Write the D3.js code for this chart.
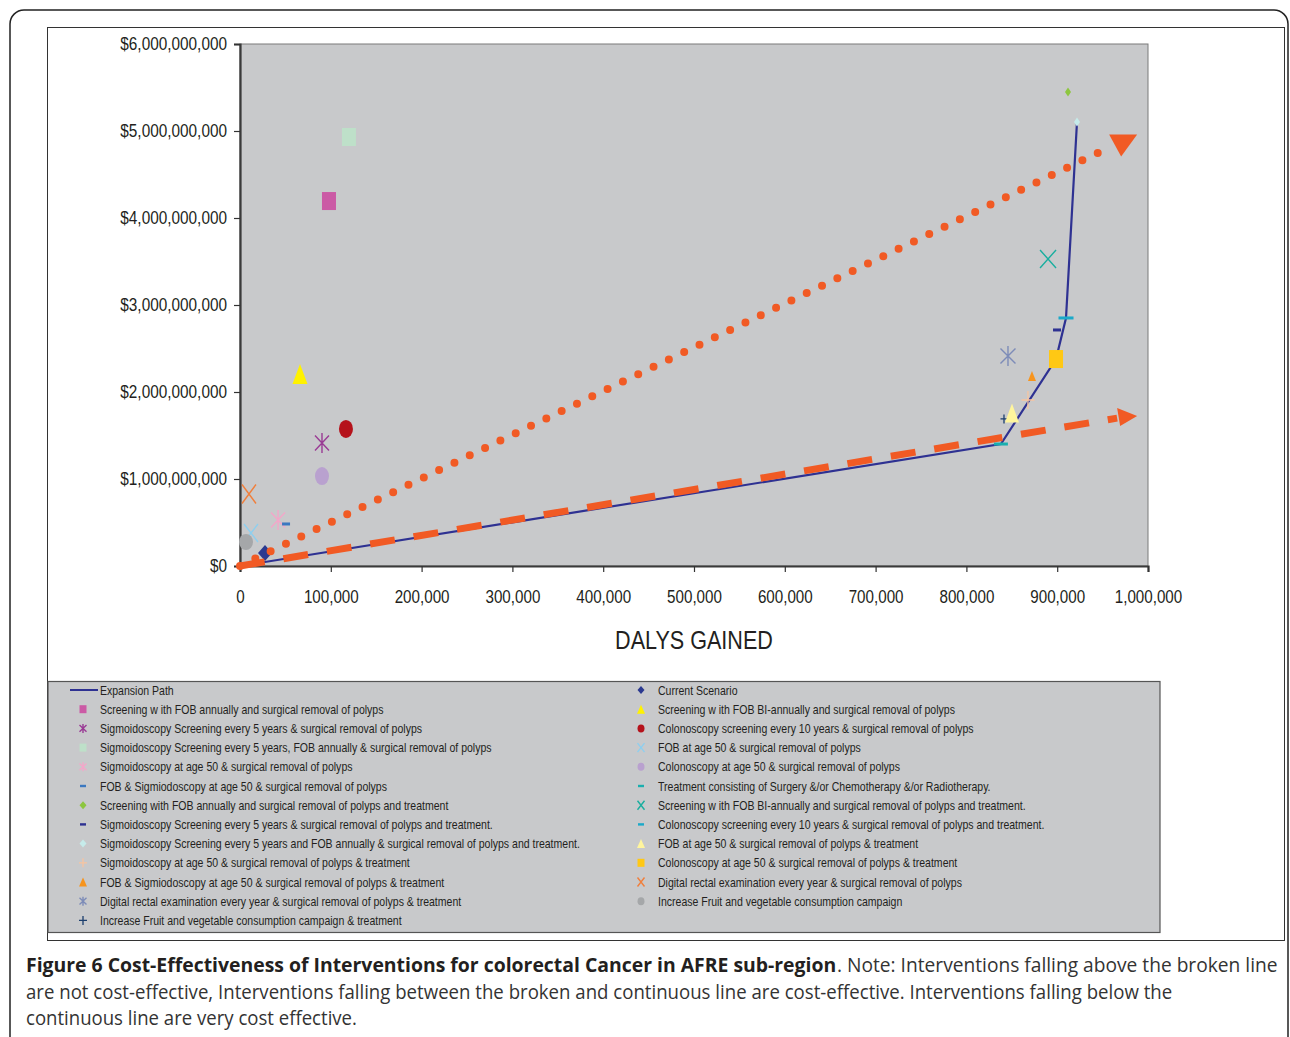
<!DOCTYPE html>
<html><head><meta charset="utf-8">
<script src="https://cdn.jsdelivr.net/npm/d3@7"></script>
<style>
html,body{margin:0;padding:0;background:#fff;}
svg{display:block;}
.nar{font-family:'Liberation Sans',Arial,sans-serif;}
</style></head>
<body>
<script>
// ---------- DATA ----------
const interventions = [
  "Screening w ith FOB annually and surgical removal of polyps",
  "Sigmoidoscopy Screening every 5 years & surgical removal of polyps",
  "Sigmoidoscopy Screening every 5 years, FOB annually & surgical removal of polyps",
  "Sigmoidoscopy at age 50 & surgical removal of polyps",
  "FOB & Sigmiodoscopy at age 50 & surgical removal of polyps",
  "Screening with FOB annually and surgical removal of polyps and treatment",
  "Sigmoidoscopy Screening every 5 years & surgical removal of polyps and treatment.",
  "Sigmoidoscopy Screening every 5 years and FOB annually & surgical removal of polyps and treatment.",
  "Sigmoidoscopy at age 50 & surgical removal of polyps & treatment",
  "FOB & Sigmiodoscopy at age 50 & surgical removal of polyps & treatment",
  "Digital rectal examination every year & surgical removal of polyps & treatment",
  "Increase Fruit and vegetable consumption campaign & treatment",
  "Current Scenario",
  "Screening w ith FOB BI-annually and surgical removal of polyps",
  "Colonoscopy screening every 10 years & surgical removal of polyps",
  "FOB at age 50 & surgical removal of polyps",
  "Colonoscopy at age 50 & surgical removal of polyps",
  "Treatment consisting of Surgery &/or Chemotherapy &/or Radiotherapy.",
  "Screening w ith FOB BI-annually and surgical removal of polyps and treatment.",
  "Colonoscopy screening every 10 years & surgical removal of polyps and treatment.",
  "FOB at age 50 & surgical removal of polyps & treatment",
  "Colonoscopy at age 50 & surgical removal of polyps & treatment",
  "Digital rectal examination every year & surgical removal of polyps",
  "Increase Fruit and vegetable consumption campaign"
];
const dalysGained = [98000, 90300, 120000, 41900, 50700, 911900, 899800, 921800, 867800, 872200, 845800, 841400,
                     27500, 66100, 116700, 12100, 90300, 838000, 889900, 909700, 850200, 898700, 9900, 6600];
const costs = [4.195e9, 1.414e9, 4.931e9, 0.529e9, 0.483e9, 5.448e9, 2.713e9, 5.103e9, 1.908e9, 2.184e9, 2.414e9, 1.690e9,
               0.149e9, 2.207e9, 1.575e9, 0.379e9, 1.034e9, 1.402e9, 3.529e9, 2.851e9, 1.759e9, 2.379e9, 0.828e9, 0.276e9];
const expansionDalys = [0, 838000, 898700, 909700, 921800];
const expansionCosts = [0, 1.402e9, 2.379e9, 2.851e9, 5.103e9];
const dottedLineDalys = [0, 955000];
const dottedLineCosts = [0, 4.80e9];
const dashedLineDalys = [0, 966000];
const dashedLineCosts = [0, 1.70e9];
const xTicks = [0,100000,200000,300000,400000,500000,600000,700000,800000,900000,1000000];
const yTicks = [0,1e9,2e9,3e9,4e9,5e9,6e9];
const xTitle = "DALYS GAINED";
const captionBold = "Figure 6 Cost-Effectiveness of Interventions for colorectal Cancer in AFRE sub-region";
const captionRest1 = ". Note: Interventions falling above the broken line";
const captionLine2 = "are not cost-effective, Interventions falling between the broken and continuous line are cost-effective. Interventions falling below the";
const captionLine3 = "continuous line are very cost effective.";

// ---------- STYLES ----------
const shapes = ["rect","star","rect","star","dash","diamond","dash","diamond","plus","tri","star","plus",
                "diamond","tri","ellipse","x","ellipse","dash","x","dash","tri","rect","x","ellipse"];
const colors = ["#CB5AA5","#9A3B95","#BEE0C9","#F3A7C9","#3B78C0","#8DC63F","#2E3192","#C6EBEA","#F7C4A0","#F7941D","#7D8CB8","#1C3F6E",
                "#2B3990","#FFF200","#B5121B","#8ECFEF","#B9A1CF","#1AAFAF","#1AAE9F","#1BA9C9","#FFF59D","#FFC814","#F07F3C","#A5A7A9"];
const sizes = [[14,18],[14,20],[14,18],[14,20],[8,3],[6,9],[8,3],[6,9],[13,18],[8,10],[15,20],[7,9],
               [14,16],[15,20],[14,18],[14,18],[14,18],[14,3],[16,18],[15,3],[14,19],[14,18],[14,19],[14,16]];
const legendSizes = {rect:[7,8],star:[7,9],dash:[6,2.4],diamond:[7,8],plus:[8,9],tri:[8,9],ellipse:[7,8],x:[7,9]};

const W=1290,H=1037;
const svg = d3.select("body").append("svg").attr("width",W).attr("height",H);

// condense text horizontally about its anchor point (scale factor f, or to a target width)
function condense(sel, f, target){
  sel.each(function(){
    const t = d3.select(this);
    const L = this.getComputedTextLength();
    const k = target ? target / L : f;
    const tx = +t.attr("x") || 0, ty = +t.attr("y") || 0;
    t.attr("x",0).attr("y",0).attr("transform",`translate(${tx},${ty}) scale(${k},1)`);
  });
}

// outer frames
svg.append("rect").attr("x",10).attr("y",10).attr("width",1278).attr("height",1050).attr("rx",14)
   .attr("fill","none").attr("stroke","#222").attr("stroke-width",1.5);
svg.append("rect").attr("x",47.5).attr("y",27.5).attr("width",1237).attr("height",913)
   .attr("fill","#fff").attr("stroke","#333").attr("stroke-width",1);

const x = d3.scaleLinear().domain([0,1e6]).range([240,1148]);
const y = d3.scaleLinear().domain([0,6e9]).range([566,44]);

// plot area
svg.append("rect").attr("x",x(0)).attr("y",y(6e9)).attr("width",x(1e6)-x(0)).attr("height",y(0)-y(6e9))
   .attr("fill","#C8C9CB").attr("stroke","#7a7a7a").attr("stroke-width",1);

const fmtX = d3.format(",");
const fmtY = v => "$" + d3.format(",")(v);

const gx = svg.append("g").attr("transform",`translate(0,${y(0)})`)
   .call(d3.axisBottom(x).tickValues(xTicks).tickFormat(fmtX).tickSize(6).tickPadding(18));
const gy = svg.append("g").attr("transform",`translate(${x(0)},0)`)
   .call(d3.axisLeft(y).tickValues(yTicks).tickFormat(fmtY).tickSize(6).tickPadding(7));
[gx,gy].forEach(g=>{
  g.attr("font-family",null).attr("font-size",null);
  g.select(".domain").attr("stroke","#3a3a3a").attr("stroke-width",2.2);
  g.selectAll(".tick line").attr("stroke","#333").attr("stroke-width",1.2);
  g.selectAll(".tick text").attr("class","nar").attr("font-size",18.3).attr("fill","#231f20");
});
condense(gx.selectAll(".tick text"), 0.83);
condense(gy.selectAll(".tick text"), 0.84);

condense(svg.append("text").attr("class","nar").attr("x",694).attr("y",649).attr("text-anchor","middle")
   .attr("font-size",26).attr("fill","#231f20").text(xTitle), 0.83);

// marker drawer
function drawMarker(g, shape, cx, cy, w, h, color){
  const hw=w/2, hh=h/2;
  if(shape==="rect") g.append("rect").attr("x",cx-hw).attr("y",cy-hh).attr("width",w).attr("height",h).attr("fill",color);
  else if(shape==="ellipse") g.append("ellipse").attr("cx",cx).attr("cy",cy).attr("rx",hw).attr("ry",hh).attr("fill",color);
  else if(shape==="diamond") g.append("path").attr("d",`M${cx},${cy-hh}L${cx+hw},${cy}L${cx},${cy+hh}L${cx-hw},${cy}Z`).attr("fill",color);
  else if(shape==="tri") g.append("path").attr("d",`M${cx},${cy-hh}L${cx+hw},${cy+hh}L${cx-hw},${cy+hh}Z`).attr("fill",color);
  else if(shape==="dash") g.append("rect").attr("x",cx-hw).attr("y",cy-hh).attr("width",w).attr("height",h).attr("fill",color);
  else if(shape==="x") g.append("path").attr("d",`M${cx-hw},${cy-hh}L${cx+hw},${cy+hh}M${cx+hw},${cy-hh}L${cx-hw},${cy+hh}`)
        .attr("stroke",color).attr("stroke-width",1.4).attr("fill","none");
  else if(shape==="star") g.append("path").attr("d",`M${cx-hw},${cy-hh*0.75}L${cx+hw},${cy+hh*0.75}M${cx+hw},${cy-hh*0.75}L${cx-hw},${cy+hh*0.75}M${cx},${cy-hh}L${cx},${cy+hh}`)
        .attr("stroke",color).attr("stroke-width",1.4).attr("fill","none");
  else if(shape==="plus") g.append("path").attr("d",`M${cx-hw},${cy}L${cx+hw},${cy}M${cx},${cy-hh}L${cx},${cy+hh}`)
        .attr("stroke",color).attr("stroke-width",1.3).attr("fill","none");
}

// expansion path
const line = d3.line().x(d=>x(d[0])).y(d=>y(d[1]));
svg.append("path").datum(expansionDalys.map((v,i)=>[v,expansionCosts[i]])).attr("d",line)
   .attr("fill","none").attr("stroke","#2E3192").attr("stroke-width",2.2);

// markers
const gm = svg.append("g");
interventions.forEach((n,i)=>{
  drawMarker(gm, shapes[i], x(dalysGained[i]), y(costs[i]), sizes[i][0], sizes[i][1], colors[i]);
});

// threshold lines
svg.append("path").datum(dottedLineDalys.map((v,i)=>[v,dottedLineCosts[i]])).attr("d",line)
   .attr("fill","none").attr("stroke","#F15A24").attr("stroke-width",8).attr("stroke-linecap","round")
   .attr("stroke-dasharray","0,17");
{
  const ex=x(dottedLineDalys[1]), ey=y(dottedLineCosts[1]);
  svg.append("path").attr("d",`M${ex+2},${ey-14}L${ex+30},${ey-14}L${ex+14},${ey+8}Z`).attr("fill","#F15A24");
}
svg.append("path").datum(dashedLineDalys.map((v,i)=>[v,dashedLineCosts[i]])).attr("d",line)
   .attr("fill","none").attr("stroke","#F15A24").attr("stroke-width",7)
   .attr("stroke-dasharray","25,19");
{
  const ex=x(dashedLineDalys[1]), ey=y(dashedLineCosts[1]);
  svg.append("path").attr("d",`M${ex},${ey-10}L${ex+20},${ey-2}L${ex+3},${ey+8}Z`).attr("fill","#F15A24");
}

// legend
svg.append("rect").attr("x",48).attr("y",681.5).attr("width",1112).attr("height",251)
   .attr("fill","#C8C9CB").attr("stroke","#555").attr("stroke-width",1.2);
const lg = svg.append("g");
const rowY = i => 690 + i*19.2;
lg.append("line").attr("x1",70).attr("x2",98).attr("y1",rowY(0)).attr("y2",rowY(0)).attr("stroke","#2E3192").attr("stroke-width",2);
lg.append("text").attr("class","nar leg").attr("x",100).attr("y",rowY(0)).attr("dy","0.35em").attr("font-size",13).attr("fill","#231f20").text("Expansion Path");
interventions.forEach((n,i)=>{
  let col, row;
  if(i<12){ col=0; row=i+1; } else { col=1; row=i-12; }
  const mx = col===0 ? 83 : 641, tx = col===0 ? 100 : 658;
  const s = legendSizes[shapes[i]];
  drawMarker(lg, shapes[i], mx, rowY(row), s[0], s[1], colors[i]);
  lg.append("text").attr("class","nar leg").attr("x",tx).attr("y",rowY(row)).attr("dy","0.35em")
    .attr("font-size",13).attr("fill","#231f20").text(n);
});
condense(lg.selectAll("text.leg"), 0.81);

// caption
const cap = svg.append("g").attr("font-family","'Open Sans',sans-serif").attr("font-size",20);
condense(cap.append("text").attr("x",26).attr("y",972).attr("font-weight","bold").attr("fill","#231f20").text(captionBold), 0, 811);
condense(cap.append("text").attr("x",837).attr("y",972).attr("fill","#333").text(captionRest1), 0, 441);
condense(cap.append("text").attr("x",26).attr("y",999).attr("fill","#333").text(captionLine2), 0, 1147);
condense(cap.append("text").attr("x",26).attr("y",1025).attr("fill","#333").text(captionLine3), 0, 331);
</script>
</body></html>
